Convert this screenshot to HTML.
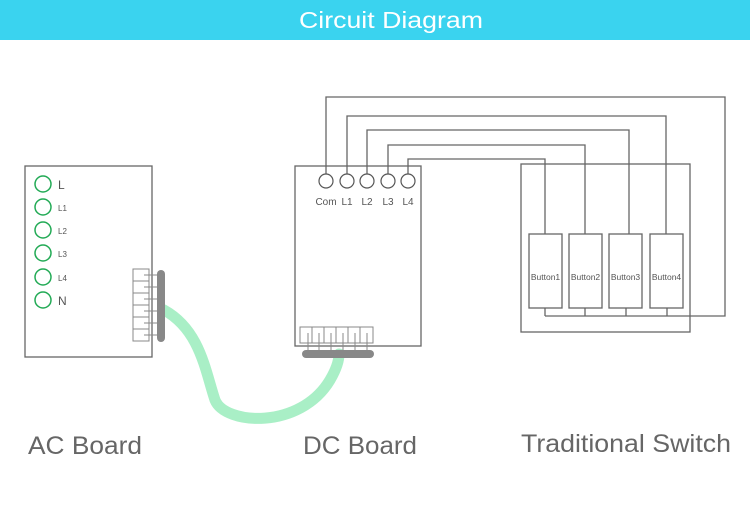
<!DOCTYPE html>
<html><head><meta charset="utf-8"><style>
html,body{margin:0;padding:0;background:#fff;width:750px;height:518px;overflow:hidden}
</style></head><body>
<svg width="750" height="518" viewBox="0 0 750 518" xmlns="http://www.w3.org/2000/svg" font-family="Liberation Sans, sans-serif">
<rect x="0" y="0" width="750" height="40" fill="#3ad3ef"/>
<text x="391" y="28" fill="#fff" font-size="23" text-anchor="middle" textLength="184" lengthAdjust="spacingAndGlyphs">Circuit Diagram</text>

<g fill="none" stroke="#666" stroke-width="1.3">
<!-- AC board -->
<rect x="25" y="166" width="127" height="191"/>
<!-- DC board -->
<rect x="295" y="166" width="126" height="180"/>
<!-- switch -->
<rect x="521" y="164" width="169" height="168"/>
</g>
<g fill="none" stroke="#22aa55" stroke-width="1.5">
<circle cx="43" cy="184" r="8"/><circle cx="43" cy="207" r="8"/><circle cx="43" cy="230" r="8"/>
<circle cx="43" cy="253" r="8"/><circle cx="43" cy="277" r="8"/><circle cx="43" cy="300" r="8"/>
</g>
<g fill="#555">
<text x="58" y="189" font-size="12">L</text>
<text x="58" y="211" font-size="8">L1</text>
<text x="58" y="234" font-size="8">L2</text>
<text x="58" y="257" font-size="8">L3</text>
<text x="58" y="281" font-size="8">L4</text>
<text x="58" y="305" font-size="12">N</text>
</g>
<!-- AC terminal -->
<g fill="none" stroke="#888" stroke-width="1">
<rect x="133" y="269" width="16" height="72"/>
<line x1="133" y1="281" x2="149" y2="281"/><line x1="133" y1="293" x2="149" y2="293"/>
<line x1="133" y1="305" x2="149" y2="305"/><line x1="133" y1="317" x2="149" y2="317"/>
<line x1="133" y1="329" x2="149" y2="329"/>
<line x1="144" y1="275" x2="160" y2="275"/><line x1="144" y1="287" x2="160" y2="287"/>
<line x1="144" y1="299" x2="160" y2="299"/><line x1="144" y1="311" x2="160" y2="311"/>
<line x1="144" y1="323" x2="160" y2="323"/><line x1="144" y1="335" x2="160" y2="335"/>
</g>
<!-- cable -->
<path d="M164 310 C200 330 205 370 215 400 C225 425 300 430 330 380 C337 368 339 360 339 354" fill="none" stroke="#a9efc6" stroke-width="11" stroke-linecap="round"/>
<rect x="157" y="270" width="8" height="72" rx="4" fill="#888"/>
<!-- DC terminal -->
<g fill="none" stroke="#888" stroke-width="1">
<rect x="300" y="327" width="73" height="16"/>
<line x1="312" y1="327" x2="312" y2="343"/><line x1="324" y1="327" x2="324" y2="343"/>
<line x1="336" y1="327" x2="336" y2="343"/><line x1="348" y1="327" x2="348" y2="343"/>
<line x1="360" y1="327" x2="360" y2="343"/>
<line x1="308" y1="333" x2="308" y2="351"/><line x1="319" y1="333" x2="319" y2="351"/>
<line x1="331" y1="333" x2="331" y2="351"/><line x1="343" y1="333" x2="343" y2="351"/>
<line x1="355" y1="333" x2="355" y2="351"/><line x1="367" y1="333" x2="367" y2="351"/>
</g>
<rect x="302" y="350" width="72" height="8" rx="4" fill="#888"/>
<!-- wires -->
<g fill="none" stroke="#666" stroke-width="1.3">
<polyline points="326,174 326,97 725,97 725,316 545,316"/>
<polyline points="347,174 347,116 666,116 666,234"/>
<polyline points="367,174 367,130 629,130 629,234"/>
<polyline points="388,174 388,145 585,145 585,234"/>
<polyline points="408,174 408,159 545,159 545,234"/>
<line x1="545" y1="308" x2="545" y2="316"/><line x1="585" y1="308" x2="585" y2="316"/>
<line x1="626" y1="308" x2="626" y2="316"/><line x1="667" y1="308" x2="667" y2="316"/>
<rect x="529" y="234" width="33" height="74"/><rect x="569" y="234" width="33" height="74"/>
<rect x="609" y="234" width="33" height="74"/><rect x="650" y="234" width="33" height="74"/>
</g>
<g fill="#fff" stroke="#555" stroke-width="1.2">
<circle cx="326" cy="181" r="7"/><circle cx="347" cy="181" r="7"/><circle cx="367" cy="181" r="7"/>
<circle cx="388" cy="181" r="7"/><circle cx="408" cy="181" r="7"/>
</g>
<g fill="#555" font-size="10" text-anchor="middle">
<text x="326" y="205">Com</text><text x="347" y="205">L1</text><text x="367" y="205">L2</text>
<text x="388" y="205">L3</text><text x="408" y="205">L4</text>
</g>
<g fill="#555" font-size="8.5" text-anchor="middle">
<text x="545.5" y="280">Button1</text><text x="585.5" y="280">Button2</text>
<text x="625.5" y="280">Button3</text><text x="666.5" y="280">Button4</text>
</g>
<g fill="#666" font-size="25">
<text x="28" y="454" textLength="114" lengthAdjust="spacingAndGlyphs">AC Board</text>
<text x="303" y="454" textLength="114" lengthAdjust="spacingAndGlyphs">DC Board</text>
<text x="521" y="452" textLength="210" lengthAdjust="spacingAndGlyphs">Traditional Switch</text>
</g>
</svg>
</body></html>
